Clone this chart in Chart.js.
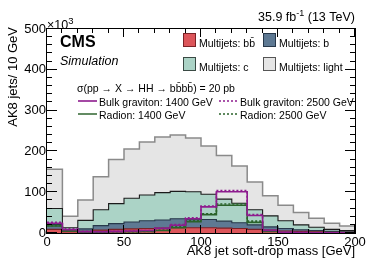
<!DOCTYPE html>
<html><head><meta charset="utf-8">
<script src="https://cdn.jsdelivr.net/npm/chart.js@4.4.1/dist/chart.umd.min.js"></script>
<style>html,body{margin:0;padding:0;background:#fff}canvas{display:block}</style>
</head><body>
<canvas id="c" width="374" height="275"></canvas>
<script>
// ---- data (AK8 jets / 10 GeV, in units of 10^3) ----
const binEdges = [0,10,20,30,40,50,60,70,80,90,100,110,120,130,140,150,160,170,180,190,200];
const multijetsBB    = [9, 3, 4, 7, 9, 10, 11, 12, 13, 13, 13, 12, 11, 9, 7, 5, 4, 3, 2, 1.5];
const multijetsB     = [12, 4, 6, 11, 14, 17, 19, 20, 22, 21, 20, 17, 14, 11, 8, 6, 4, 3, 2, 1.5];
const multijetsC     = [39, 6, 21, 39, 49, 58, 63, 67, 67, 67, 62, 54, 48, 37, 27, 19, 12, 8, 5, 3];
const multijetsLight = [96, 28, 50, 81, 108, 121, 130, 136, 138, 132, 118, 107, 91, 68, 49, 38, 30, 22, 15, 11];
const bulk1400   = [24, 8, 3, 3, 4, 5, 6, 11, 19, 35, 64, 101, 101, 43, 6, 2, 1, 0.5, 0.5, 0.3];
const bulk2500   = [26, 10, 4, 3, 4, 5, 6, 12, 21, 37, 66, 104, 104, 45, 7, 2, 1, 0.5, 0.5, 0.3];
const radion1400 = [17, 5, 2, 2, 3, 3, 4, 6, 13, 28, 45, 68, 68, 26, 4, 1, 0.5, 0.3, 0.3, 0.2];
const radion2500 = [18, 6, 2, 2, 3, 3, 4, 7, 15, 30, 47, 71, 71, 29, 5, 1, 0.5, 0.3, 0.3, 0.2];
const xTicks = [0, 50, 100, 150, 200];
const yTicks = [0, 100, 200, 300, 400, 500];
const stackLabels = ['Multijets: bb\u0304', 'Multijets: b', 'Multijets: c', 'Multijets: light'];
const signalLabels = ['Bulk graviton: 1400 GeV', 'Bulk graviton: 2500 GeV', 'Radion: 1400 GeV', 'Radion: 2500 GeV'];
const xTitle = 'AK8 jet soft-drop mass [GeV]';
const yTitle = 'AK8 jets/ 10 GeV';
const xsecText = '\u03C3(pp \u2192 X \u2192 HH \u2192 bb\u0304bb\u0304) = 20 pb';

// ---- helpers ----
function cumulate(...arrs){ return arrs[0].map((_,i)=>arrs.reduce((s,a)=>s+a[i],0)); }
function stepPoints(vals){
  const pts = vals.map((v,i)=>({x:binEdges[i], y:v}));
  pts.push({x:binEdges[binEdges.length-1], y:vals[vals.length-1]});
  return pts;
}
const topBB = cumulate(multijetsBB);
const topB = cumulate(multijetsBB, multijetsB);
const topC = cumulate(multijetsBB, multijetsB, multijetsC);
const topL = cumulate(multijetsBB, multijetsB, multijetsC, multijetsLight);

const COL = {
  bb:'#dc555a', bbB:'#7a2226',
  b:'#5e7993', bB:'#27384a',
  c:'#abd3c6', cB:'#1b1b1b',
  l:'#e5e5e5', lB:'#8a8a8a',
  purple:'#8e1c8e', green:'#2a632a'
};

Chart.defaults.font.family = "'Liberation Sans', Arial, Helvetica, sans-serif";
Chart.defaults.color = '#000';

function histDS(label, vals, bg, bc, bw, order){
  return {label, data:stepPoints(vals), stepped:true, fill:'origin', backgroundColor:bg, borderColor:bc,
          borderWidth:bw, pointRadius:0, order, tension:0};
}
function lineDS(label, vals, color, dash, order){
  return {label, data:stepPoints(vals), stepped:true, fill:false, borderColor:color, borderWidth:1.6,
          borderDash:dash, pointRadius:0, order};
}

const decor = {
  id:'decor',
  afterDraw(chart){
    const ctx = chart.ctx, a = chart.chartArea, xs = chart.scales.x, ys = chart.scales.y;
    ctx.save();
    // frame
    ctx.strokeStyle = '#000'; ctx.lineWidth = 1;
    ctx.strokeRect(a.left-0.5, a.top-0.5, a.right-a.left+1, a.bottom-a.top+1);
    // ticks
    ctx.beginPath();
    for(let v=0; v<=200; v+=10){
      const px = Math.round(xs.getPixelForValue(v))-0.5, L = (v%50===0)?8:4;
      ctx.moveTo(px, a.bottom); ctx.lineTo(px, a.bottom-L);
      ctx.moveTo(px, a.top); ctx.lineTo(px, a.top+L);
    }
    for(let v=0; v<=500; v+=20){
      const py = Math.round(ys.getPixelForValue(v))-0.5, L = (v%100===0)?10:5;
      ctx.moveTo(a.left, py); ctx.lineTo(a.left+L, py);
      ctx.moveTo(a.right, py); ctx.lineTo(a.right-L, py);
    }
    ctx.stroke();

    const F = "'Liberation Sans', Arial, Helvetica, sans-serif";
    ctx.fillStyle = '#000'; ctx.textBaseline = 'alphabetic';
    // x10^3
    ctx.textAlign = 'left';
    ctx.font = '12.5px ' + F;
    ctx.fillText('\u00D710', a.left, 29);
    let w = ctx.measureText('\u00D710').width;
    ctx.font = '9.5px ' + F;
    ctx.fillText('3', a.left + w, 24);
    // lumi
    const p1 = '35.9 fb', p2 = '-1', p3 = ' (13 TeV)';
    ctx.font = '12.5px ' + F; const w1 = ctx.measureText(p1).width, w3 = ctx.measureText(p3).width;
    ctx.font = '9px ' + F; const w2 = ctx.measureText(p2).width;
    let x0 = a.right - (w1+w2+w3);
    ctx.font = '12.5px ' + F; ctx.fillText(p1, x0, 21);
    ctx.font = '9px ' + F; ctx.fillText(p2, x0+w1, 16);
    ctx.font = '12.5px ' + F; ctx.fillText(p3, x0+w1+w2, 21);
    // CMS
    ctx.font = 'bold 16px ' + F; ctx.fillText('CMS', 60, 46.5);
    ctx.font = 'italic 12.5px ' + F; ctx.fillText('Simulation', 60, 65);
    // stack legend
    const boxes = [
      {x:183, y:33, fill:COL.bb, stroke:COL.bbB, t:stackLabels[0]},
      {x:263, y:33, fill:COL.b, stroke:COL.bB, t:stackLabels[1]},
      {x:183, y:57, fill:COL.c, stroke:'#3a4a44', t:stackLabels[2]},
      {x:263, y:57, fill:COL.l, stroke:'#555', t:stackLabels[3]}
    ];
    ctx.font = '10.5px ' + F;
    boxes.forEach(b=>{
      ctx.fillStyle = b.fill; ctx.fillRect(b.x, b.y, 13, 14);
      ctx.strokeStyle = b.stroke; ctx.lineWidth = 1; ctx.strokeRect(b.x+0.5, b.y+0.5, 12, 13);
      ctx.fillStyle = '#000'; ctx.fillText(b.t, b.x+16, b.y+13.5);
    });
    // cross-section
    ctx.font = '10.5px ' + F; ctx.fillText(xsecText, 77, 92);
    // signal legend
    const sl = [
      {x:78, y:101, c:COL.purple, d:[], t:signalLabels[0]},
      {x:219, y:101, c:COL.purple, d:[2,2], t:signalLabels[1]},
      {x:78, y:114, c:'#3d6e3d', d:[], t:signalLabels[2]},
      {x:219, y:114, c:COL.green, d:[2,2], t:signalLabels[3]}
    ];
    sl.forEach(s=>{
      ctx.strokeStyle = s.c; ctx.lineWidth = 1.6; ctx.setLineDash(s.d);
      ctx.beginPath(); ctx.moveTo(s.x, s.y); ctx.lineTo(s.x+19, s.y); ctx.stroke();
      ctx.setLineDash([]);
      ctx.fillStyle = '#000'; ctx.fillText(s.t, s.x+21, s.y+4.5);
    });
    // axis titles
    ctx.font = '13px ' + F;
    ctx.textAlign = 'right';
    ctx.fillText(xTitle, a.right, 255);
    ctx.save();
    ctx.translate(17, a.top-2); ctx.rotate(-Math.PI/2);
    ctx.fillText(yTitle, 0, 0);
    ctx.restore();
    ctx.restore();
  }
};

new Chart(document.getElementById('c'), {
  type:'line',
  data:{datasets:[
    histDS(stackLabels[3], topL, COL.l, COL.lB, 1.5, 10),
    histDS(stackLabels[2], topC, COL.c, COL.cB, 1.1, 9),
    histDS(stackLabels[1], topB, COL.b, COL.bB, 1.1, 8),
    histDS(stackLabels[0], topBB, COL.bb, COL.bbB, 1.1, 7),
    lineDS(signalLabels[2], radion1400, COL.green, [], 4),
    lineDS(signalLabels[3], radion2500, COL.green, [2,2], 3),
    lineDS(signalLabels[0], bulk1400, COL.purple, [], 2),
    lineDS(signalLabels[1], bulk2500, COL.purple, [2,2], 1)
  ]},
  options:{
    responsive:false, animation:false, devicePixelRatio:1,
    layout:{padding:{top:29, right:19, left:0, bottom:0}},
    plugins:{legend:{display:false}, tooltip:{enabled:false}},
    scales:{
      x:{type:'linear', min:0, max:200,
         afterBuildTicks(s){ s.ticks = xTicks.map(v=>({value:v})); },
         ticks:{font:{size:13}, color:'#000', padding:2, maxRotation:0, autoSkip:false},
         grid:{display:false, drawTicks:false}, border:{display:false},
         afterFit(s){ s.height = 42; }},
      y:{type:'linear', min:0, max:500,
         afterBuildTicks(s){ s.ticks = yTicks.map(v=>({value:v})); },
         ticks:{font:{size:13}, color:'#000', padding:1, autoSkip:false},
         grid:{display:false, drawTicks:false}, border:{display:false},
         afterFit(s){ s.width = 47; }}
    }
  },
  plugins:[decor]
});
</script>
</body></html>
